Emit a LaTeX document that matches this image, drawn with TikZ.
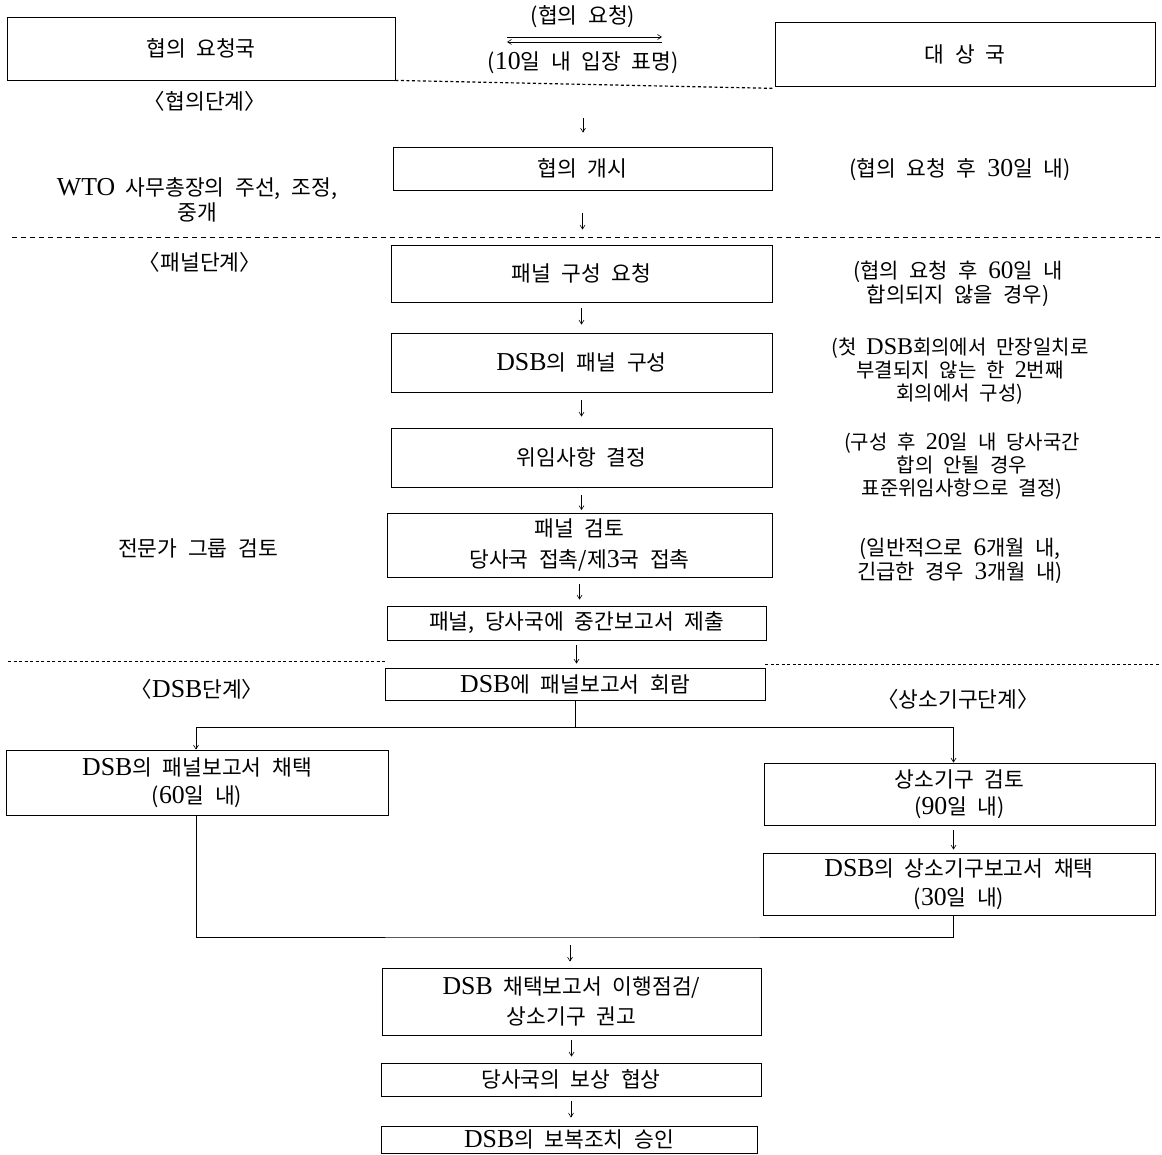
\documentclass[tikz,border=0pt]{standalone}
\usepackage{fontspec}
\setmainfont[WordSpace=2.2]{Noto Sans CJK KR}
\newfontfamily\latf[Scale=1.2,WordSpace=1.5]{Liberation Serif}
\newcommand{\lt}[1]{{\latf #1}}
\newcommand{\fsz}{\fontsize{21.5}{22}\selectfont}
\usetikzlibrary{arrows.meta}
\tikzset{
  box/.style={draw, line width=0.8pt, inner sep=0pt, align=center, font=\fsz},
  txt/.style={inner sep=0pt, align=center, font=\fsz},
  note/.style={inner sep=0pt, align=center, font=\fontsize{20}{23}\selectfont},
  arr/.style={-{Straight Barb[length=4pt,width=5pt]}, line width=0.6pt},
  conn/.style={line width=0.6pt},
  phase/.style={line width=0.8pt, dash pattern=on 4pt off 3pt},
}
\begin{document}
\begin{tikzpicture}[x=1pt,y=-1pt]
\useasboundingbox (0,0) rectangle (1162,1155);

% top boxes
\node[box, minimum width=388, minimum height=63] (req) at (201,48.5) {협의 요청국};
\node[box, minimum width=380, minimum height=64] (tgt) at (965,54) {대 상 국};
\node[txt] (lreq) at (583,17) {(협의 요청)};
\node[txt] (lresp) at (583,63) {(\lt{10}일 내 입장 표명)};
\coordinate (d1a) at (507,37);
\coordinate (d1b) at (662,37);
\coordinate (d2a) at (662,42);
\coordinate (d2b) at (507,42);
\draw[arr] (d1a) -- (d1b);
\draw[arr] (d2a) -- (d2b);
\draw[phase, line width=1.2pt, dash pattern=on 3pt off 2.5pt] (req.south east) -- ([yshift=-2pt]tgt.south west);

% consultation stage
\node[txt] (ph1) at (205,101) {〈협의단계〉};
\node[box, minimum width=379, minimum height=43] (start) at (582.5,168.5) {협의 개시};
\node[txt] (n1) at (960,170) {(협의 요청 후 \lt{30}일 내)};
\node[txt, font=\fontsize{21.5}{25}\selectfont] (wto) at (197,199.5) {\lt{WTO} 사무총장의 주선, 조정,\\중개};
\coordinate (a0) at (583,118);
\draw[arr, shorten >=14pt] (a0) -- (a0 |- start.north);

\coordinate (dl2a) at (12,237);
\coordinate (dl2b) at (1160,237);
\draw[phase, dash pattern=on 5pt off 4pt] (dl2a) -- (dl2b);

% panel stage
\node[txt] (ph2) at (200,262) {〈패널단계〉};
\node[box, minimum width=381, minimum height=57] (preq) at (581.5,273.5) {패널 구성 요청};
\node[box, minimum width=381, minimum height=59] (pcomp) at (581.5,362.5) {\lt{DSB}의 패널 구성};
\node[box, minimum width=381, minimum height=59] (terms) at (581.5,457.5) {위임사항 결정};
\node[box, minimum width=385, minimum height=64, font=\fontsize{21.5}{31}\selectfont] (rev) at (579.5,545.5) {패널 검토\\당사국 접촉/제\lt{3}국 접촉};
\node[box, minimum width=379, minimum height=34] (interim) at (576.5,623) {패널, 당사국에 중간보고서 제출};

\node[note, font=\fontsize{21}{24}\selectfont] (n2) at (958,284) {(협의 요청 후 \lt{60}일 내\\합의되지 않을 경우)};
\node[note] (n3) at (960,371) {(첫 \lt{DSB}회의에서 만장일치로\\부결되지 않는 한 \lt{2}번째\\회의에서 구성)};
\node[note] (n4) at (962,466) {(구성 후 \lt{20}일 내 당사국간\\합의 안될 경우\\표준위임사항으로 결정)};
\node[note, font=\fontsize{21}{24}\selectfont] (n5) at (960,561) {(일반적으로 \lt{6}개월 내,\\긴급한 경우 \lt{3}개월 내)};
\node[txt] (expert) at (198,548) {전문가 그룹 검토};

\draw[arr, shorten <=23pt, shorten >=15pt] (start.south) -- (start.south |- preq.north);
\draw[arr, shorten <=6pt, shorten >=8pt] (preq.south) -- (preq.south |- pcomp.north);
\draw[arr, shorten <=8pt, shorten >=11pt] (pcomp.south) -- (pcomp.south |- terms.north);
\draw[arr, shorten <=8pt, shorten >=3pt] (terms.south) -- (terms.south |- rev.north);
\draw[arr, shorten <=6pt, shorten >=6pt] (rev.south) -- (rev.south |- interim.north);

% DSB stage
\node[box, minimum width=380, minimum height=32] (circ) at (575,684) {\lt{DSB}에 패널보고서 회람};
\draw[arr, shorten <=5pt, shorten >=4pt] (interim.south) -- (interim.south |- circ.north);
\coordinate (dl3a) at (8,661);
\coordinate (dl3b) at (1160,664);
\draw[phase, dash pattern=on 3pt off 2.5pt] (dl3a) -- (dl3a -| circ.west);
\draw[phase, dash pattern=on 3pt off 2.5pt] (dl3b -| circ.east) -- (dl3b);

\node[txt] (ph3) at (197,689) {〈\lt{DSB}단계〉};
\node[txt] (ph4) at (958,699) {〈상소기구단계〉};

\node[box, minimum width=382, minimum height=65, font=\fontsize{21.5}{28}\selectfont] (adopt) at (197,782.5) {\lt{DSB}의 패널보고서 채택\\(\lt{60}일 내)};
\node[box, minimum width=391, minimum height=62, font=\fontsize{21.5}{27}\selectfont] (appeal) at (959.5,794) {상소기구 검토\\(\lt{90}일 내)};
\node[box, minimum width=392, minimum height=62, font=\fontsize{21.5}{29}\selectfont] (abadopt) at (959,884) {\lt{DSB}의 상소기구보고서 채택\\(\lt{30}일 내)};

\coordinate (split) at (575,727);
\draw[conn] (circ.south) -- (split);
\draw[arr] (split) -| ([xshift=-1pt]adopt.north);
\draw[arr] (split) -| ([xshift=-6pt]appeal.north);
\draw[arr, shorten <=5pt, shorten >=3pt] ([xshift=-6pt]appeal.south) -- ([xshift=-6pt]appeal.south |- abadopt.north);

\coordinate (merge) at (570,937);
\draw[conn] ([xshift=-1pt]adopt.south) |- (merge) -| ([xshift=-6pt]abadopt.south);

% final
\node[box, minimum width=379, minimum height=67, font=\fontsize{21.5}{30}\selectfont] (impl) at (571.5,1001.5) {\lt{DSB} 채택보고서 이행점검/\\상소기구 권고};
\node[box, minimum width=380, minimum height=33] (comp) at (571,1079.5) {당사국의 보상 협상};
\node[box, minimum width=376, minimum height=27] (retal) at (569,1139.5) {\lt{DSB}의 보복조치 승인};

\draw[arr, shorten <=8pt, shorten >=6pt] (merge) -- (merge |- impl.north);
\draw[arr, shorten <=5pt, shorten >=6pt] (impl.south) -- (impl.south |- comp.north);
\draw[arr, shorten <=5pt, shorten >=8pt] (comp.south) -- (comp.south |- retal.north);
\end{tikzpicture}
\end{document}
